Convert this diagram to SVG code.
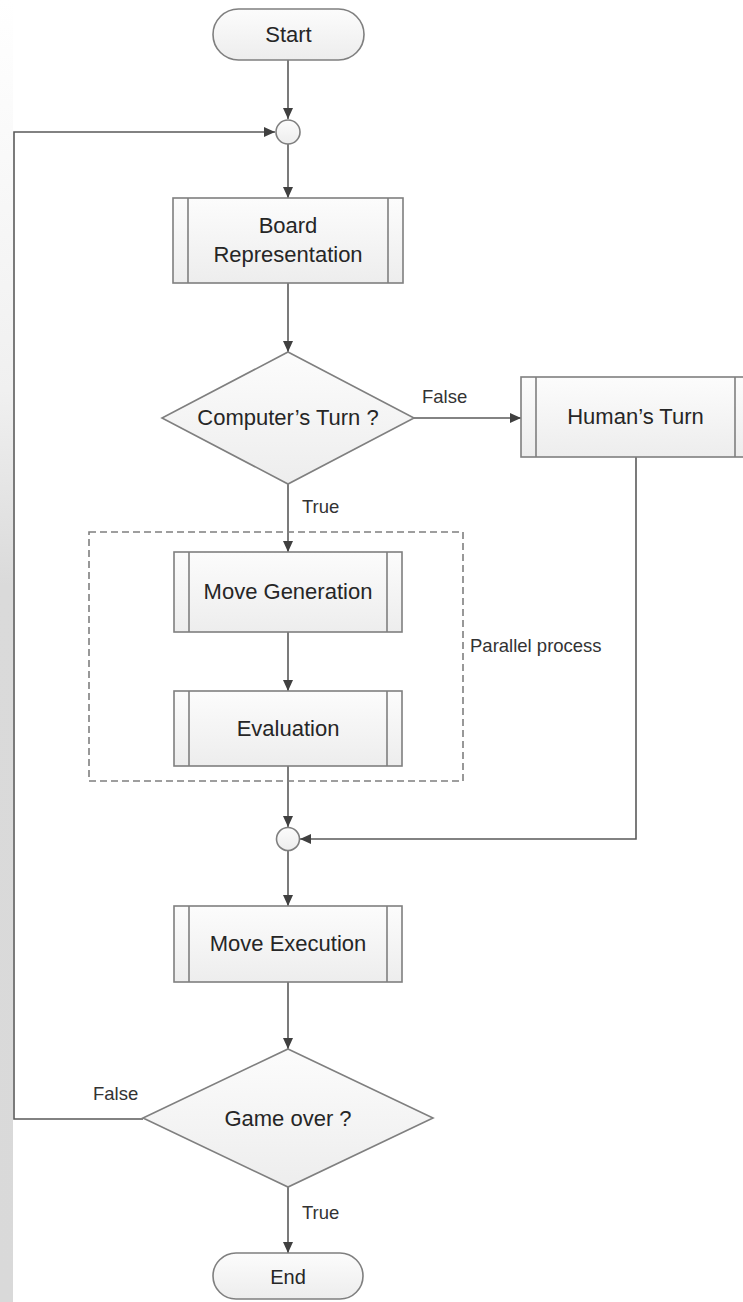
<svg xmlns="http://www.w3.org/2000/svg" width="743" height="1302" viewBox="0 0 743 1302">
<style>
.shape{fill:url(#g);stroke:#7f7f7f;stroke-width:1.6}
.inner{stroke:#7f7f7f;stroke-width:1.6;fill:none}
.t{font-family:"Liberation Sans",Arial,sans-serif;font-size:22px;fill:#262626;text-anchor:middle}
.lbl{font-family:"Liberation Sans",Arial,sans-serif;font-size:18.5px;fill:#333333}
.c{fill:none;stroke:#5a5a5a;stroke-width:1.6}
.dash{fill:none;stroke:#7f7f7f;stroke-width:1.6;stroke-dasharray:7 4}
</style>
<defs>
<linearGradient id="g" x1="0" y1="0" x2="0" y2="1">
<stop offset="0" stop-color="#fcfcfc"/>
<stop offset="1" stop-color="#ededed"/>
</linearGradient>
<linearGradient id="strip" x1="0" y1="0" x2="0" y2="1">
<stop offset="0" stop-color="#ffffff"/>
<stop offset="0.3" stop-color="#f0f0f0"/>
<stop offset="0.45" stop-color="#dadada"/>
<stop offset="1" stop-color="#d9d9d9"/>
</linearGradient>
<marker id="a" markerWidth="12" markerHeight="10" refX="11" refY="5" orient="auto" markerUnits="userSpaceOnUse">
<path d="M0,0 L11,5 L0,10 Z" fill="#404040"/>
</marker>
</defs>
<rect x="0" y="0" width="743" height="1302" fill="#ffffff"/>
<rect x="0" y="0" width="13" height="1302" fill="url(#strip)"/>

<g id="connectors">
<line class="c" x1="288" y1="60" x2="288" y2="119" marker-end="url(#a)"/>
<line class="c" x1="288" y1="144" x2="288" y2="198" marker-end="url(#a)"/>
<line class="c" x1="288" y1="283" x2="288" y2="352" marker-end="url(#a)"/>
<line class="c" x1="414" y1="418" x2="521" y2="418" marker-end="url(#a)"/>
<line class="c" x1="288" y1="484" x2="288" y2="552" marker-end="url(#a)"/>
<line class="c" x1="288" y1="632" x2="288" y2="691" marker-end="url(#a)"/>
<line class="c" x1="288" y1="766" x2="288" y2="827" marker-end="url(#a)"/>
<polyline class="c" points="636,457 636,839 300,839" marker-end="url(#a)"/>
<line class="c" x1="288" y1="851" x2="288" y2="906" marker-end="url(#a)"/>
<line class="c" x1="288" y1="982" x2="288" y2="1049" marker-end="url(#a)"/>
<polyline class="c" points="143,1119 14,1119 14,132 275,132" marker-end="url(#a)"/>
<line class="c" x1="288" y1="1187" x2="288" y2="1253" marker-end="url(#a)"/>
<text class="lbl" x="422" y="403">False</text>
<text class="lbl" x="302" y="513">True</text>
<text class="lbl" x="93" y="1100">False</text>
<text class="lbl" x="302" y="1219">True</text>
</g>

<g id="parallel">
<rect class="dash" x="89" y="532" width="374" height="249"/>
<text class="lbl" x="470" y="652">Parallel process</text>
</g>

<g id="start">
<rect class="shape" x="213" y="9" width="151" height="51" rx="25.5"/>
<text class="t" x="288.5" y="42">Start</text>
</g>

<g id="join1">
<circle class="shape" cx="288" cy="132" r="12"/>
</g>

<g id="board">
<rect class="shape" x="173" y="198" width="230" height="85"/>
<line class="inner" x1="188" y1="198" x2="188" y2="283"/>
<line class="inner" x1="388" y1="198" x2="388" y2="283"/>
<text class="t" x="288" y="233">Board</text>
<text class="t" x="288" y="262">Representation</text>
</g>

<g id="computer">
<polygon class="shape" points="288,352 414,418 288,484 162,418"/>
<text class="t" x="288" y="425">Computer’s Turn ?</text>
</g>

<g id="human">
<rect class="shape" x="521" y="377" width="229" height="80"/>
<line class="inner" x1="536" y1="377" x2="536" y2="457"/>
<line class="inner" x1="735" y1="377" x2="735" y2="457"/>
<text class="t" x="635.5" y="424">Human’s Turn</text>
</g>

<g id="movegen">
<rect class="shape" x="174" y="552" width="228" height="80"/>
<line class="inner" x1="189" y1="552" x2="189" y2="632"/>
<line class="inner" x1="387" y1="552" x2="387" y2="632"/>
<text class="t" x="288" y="599">Move Generation</text>
</g>

<g id="evaluation">
<rect class="shape" x="174" y="691" width="228" height="75"/>
<line class="inner" x1="189" y1="691" x2="189" y2="766"/>
<line class="inner" x1="387" y1="691" x2="387" y2="766"/>
<text class="t" x="288" y="736">Evaluation</text>
</g>

<g id="join2">
<circle class="shape" cx="288" cy="839" r="11.5"/>
</g>

<g id="moveexec">
<rect class="shape" x="174" y="906" width="228" height="76"/>
<line class="inner" x1="189" y1="906" x2="189" y2="982"/>
<line class="inner" x1="387" y1="906" x2="387" y2="982"/>
<text class="t" x="288" y="951">Move Execution</text>
</g>

<g id="gameover">
<polygon class="shape" points="288,1049 433,1118 288,1187 143,1118"/>
<text class="t" x="288" y="1126">Game over ?</text>
</g>

<g id="end">
<rect class="shape" x="213" y="1253" width="150" height="46" rx="23"/>
<text class="t" x="288" y="1284" style="font-size:20px">End</text>
</g>
</svg>
